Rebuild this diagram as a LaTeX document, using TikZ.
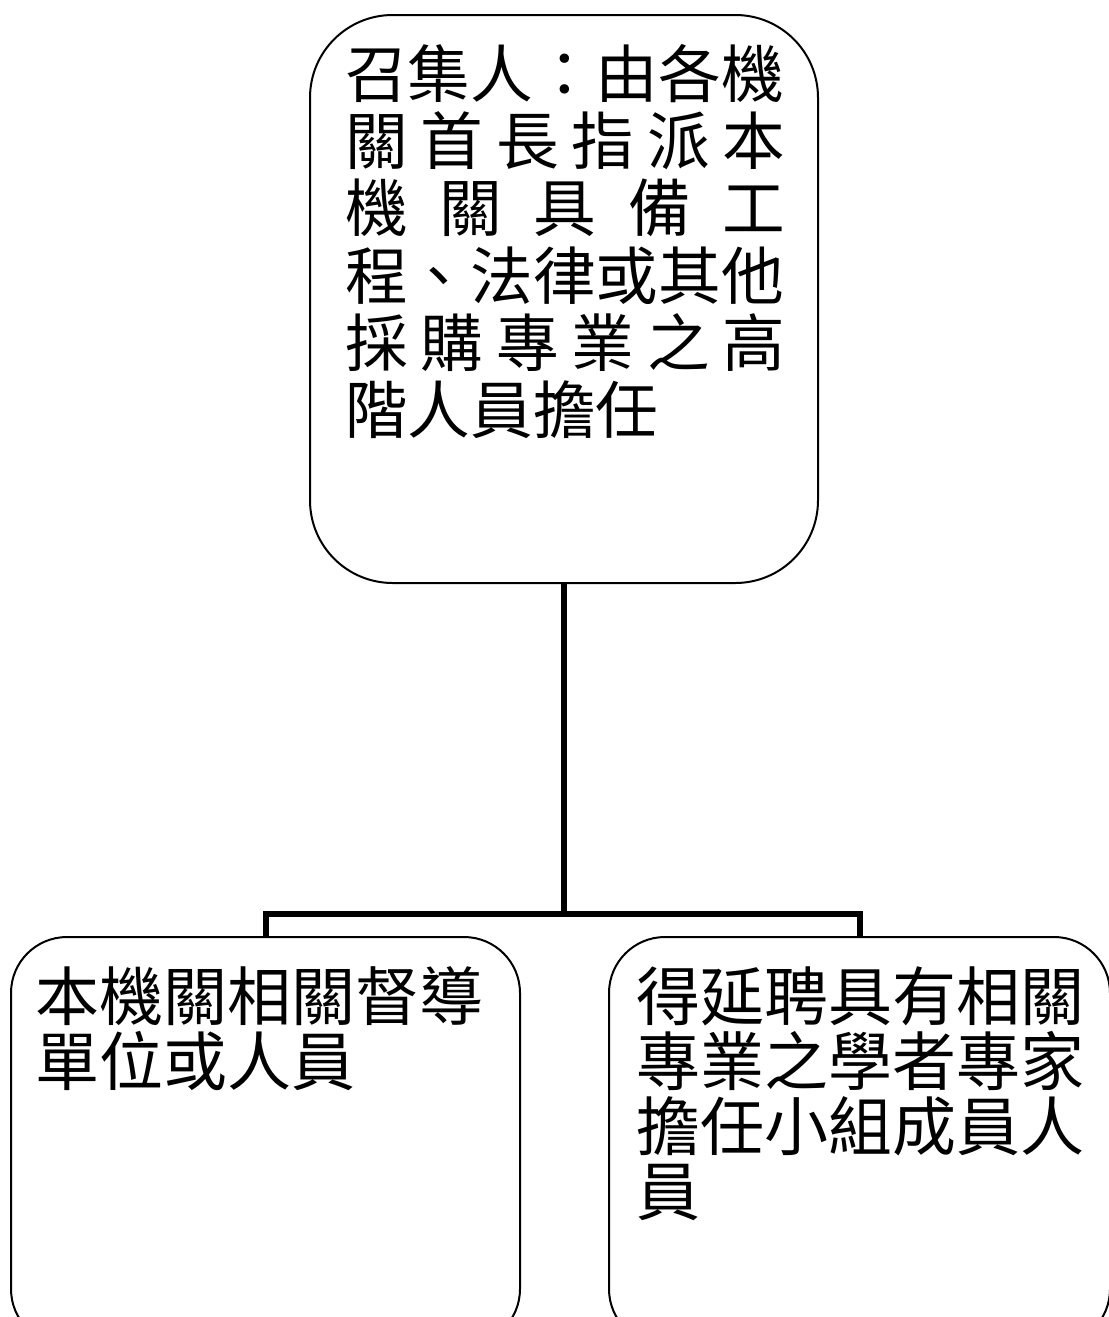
\documentclass[tikz,border=0pt]{standalone}
\usepackage{fontspec}
\setmainfont{Noto Sans CJK TC}
\usetikzlibrary{positioning}
\tikzset{
  panel/.style={draw, line width=1.5pt, rounded corners=#1, inner sep=0pt},
  bodytext/.style={inner sep=0pt, align=left, anchor=north west},
  conn/.style={line width=4.5pt}
}
\newcommand{\spreadrow}[1]{\makebox[330pt][s]{#1}}
\begin{document}
\begin{tikzpicture}[x=0.75pt,y=-0.75pt]
	\useasboundingbox (0,0) rectangle (1108,1317);
	% boxes
	\node [panel=62pt, minimum width=381pt, minimum height=426pt] (chair) at (564,299) {};
	\node [panel=42pt, minimum width=381.75pt, minimum height=306pt] (unit) at (265.5,1141) {};
	\node [panel=42pt, minimum width=375.75pt, minimum height=306pt] (expert) at (859.5,1141) {};
	% texts
	\node [bodytext, font=\fontsize{47pt}{50.4pt}\selectfont] (chairtext) at (345,44) {%
		\spreadrow{召集人：由各機}\\
		\spreadrow{關 首 長 指 派 本}\\
		\spreadrow{機 關 具 備 工}\\
		\spreadrow{程、法律或其他}\\
		\spreadrow{採 購 專 業 之 高}\\
		階人員擔任};
	\node [bodytext, font=\fontsize{48pt}{48.75pt}\selectfont] (unittext) at (35,966) {本機關相關督導\\單位或人員};
	\node [bodytext, font=\fontsize{48pt}{48.75pt}\selectfont] (experttext) at (636,966) {得延聘具有相關\\專業之學者專家\\擔任小組成員人\\員};
	% connectors
	\coordinate (fork) at (chair.south |- 0,914);
	\draw [conn] (chair.south) -- (fork);
	\draw [conn] (fork) -| (unit.north);
	\draw [conn] (fork) -| (expert.north);
\end{tikzpicture}
\end{document}
